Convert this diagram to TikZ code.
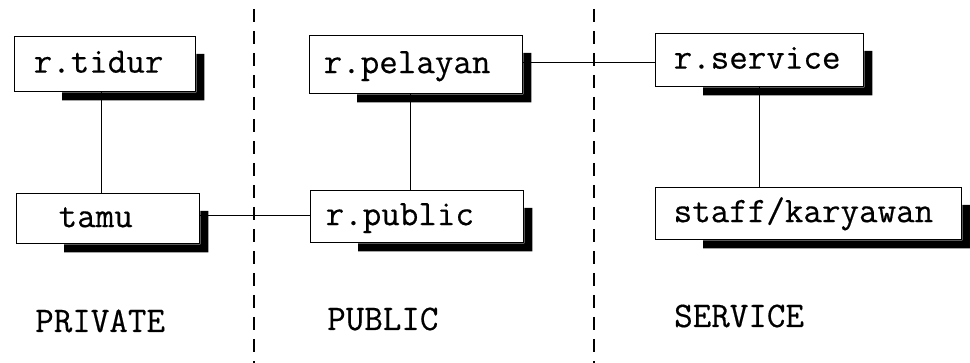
\documentclass[tikz,border=0pt]{standalone}
\usepackage{fontspec}
\newfontfamily\typew[FakeBold=0.4]{Latin Modern Mono}
% solid drop shadow along the right and lower edges of a box
\newcommand\boxshade[1]{%
  \fill ([yshift=-18pt]#1.north east) -- ++(8pt,0)
    |- ([xshift=48pt,yshift=-8pt]#1.south west)
    -- ([xshift=48pt]#1.south west) -- (#1.south east) -- cycle;}
\begin{document}
\begin{tikzpicture}[x=1pt,y=-1pt,
  box/.style={draw, fill=white, line width=1.3pt, anchor=north west,
    align=left, text height=17pt, text depth=0pt,
    font=\typew\fontsize{36}{40}\selectfont},
  link/.style={line width=1.1pt},
  divider/.style={line width=1.3pt, dash pattern=on 13pt off 9pt, dash phase=-9pt},
  zone/.style={anchor=base west, inner sep=0pt, font=\typew\fontsize{36}{40}\selectfont}]
\useasboundingbox (0,0) rectangle (970,363);

% zone dividers
\coordinate (d1top) at (254,0);
\coordinate (d1bot) at (254,363);
\coordinate (d2top) at (594,0);
\coordinate (d2bot) at (594,363);
\draw[divider] (d1top) -- (d1bot);
\draw[divider] (d2top) -- (d2bot);

% rooms
\node[box, inner xsep=19pt, text width=143pt, minimum height=55pt] (tidur) at (14,36) {r.tidur};
\node[box, inner xsep=42pt, text width=99pt, minimum height=50pt] (tamu) at (16,193) {tamu};
\node[box, inner xsep=14pt, text width=185pt, minimum height=58pt] (pelayan) at (309,35) {r.pelayan};
\node[box, inner xsep=15pt, text width=183pt, minimum height=52pt] (public) at (310,190) {r.public};
\node[box, inner xsep=18pt, text width=172pt, minimum height=53pt] (service) at (655,33) {r.service};
\node[box, inner xsep=18pt, text width=270pt, minimum height=52pt] (staff) at (655,187) {staff/karyawan};

% relations
\draw[link] ([xshift=-4pt]tidur.south) -- ([xshift=-4pt]tidur.south |- tamu.north);
\draw[link] ([yshift=3pt]tamu.east) -- ([yshift=3pt]tamu.east -| public.west);
\draw[link] ([xshift=-6pt]pelayan.south) -- ([xshift=-6pt]pelayan.south |- public.north);
\draw[link] ([yshift=2pt]pelayan.east) -- ([yshift=2pt]pelayan.east -| service.west);
\draw[link] (service.south) -- (service.south |- staff.north);

% shadows
\boxshade{tidur}
\boxshade{tamu}
\boxshade{pelayan}
\boxshade{public}
\boxshade{service}
\boxshade{staff}

% zone names
\node[zone] (private) at (35,332) {PRIVATE};
\node[zone] (publiczone) at (327,330) {PUBLIC};
\node[zone] (servicezone) at (674,327) {SERVICE};
\end{tikzpicture}
\end{document}
